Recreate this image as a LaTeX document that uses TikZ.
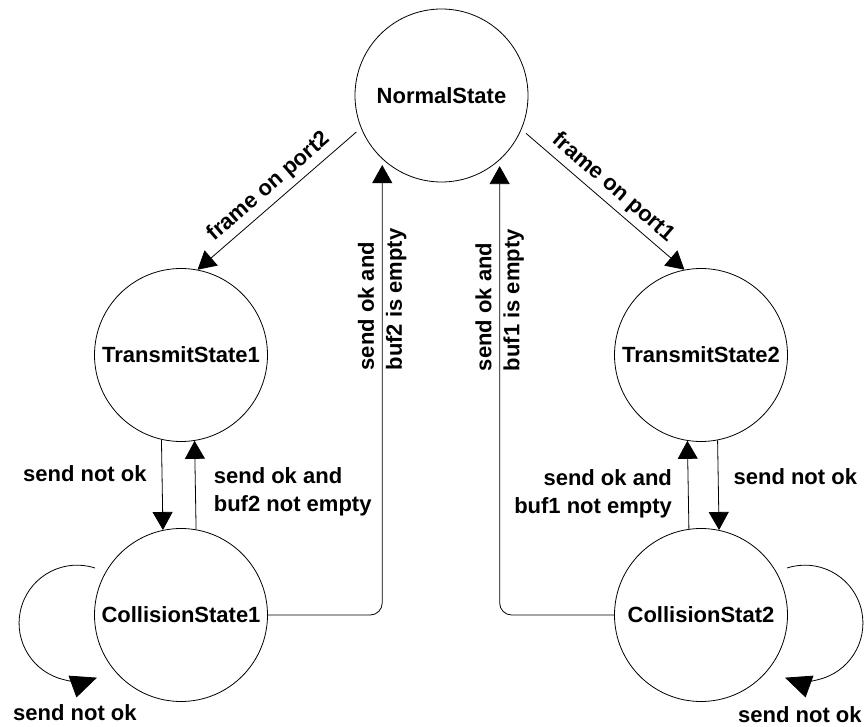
\documentclass[tikz,border=0pt]{standalone}
\usepackage{fontspec}
\setmainfont{Liberation Sans}
\usetikzlibrary{arrows.meta,calc}
\begin{document}
\begin{tikzpicture}[
  x=1pt, y=-1pt,
  every node/.style={font=\fontsize{22}{28}\selectfont\bfseries, inner sep=0pt},
  statenode/.style={circle, draw, line width=0.8pt, minimum size=173pt, inner sep=0pt},
  arr/.style={line width=0.8pt, -{Triangle[length=18pt,width=20pt]}},
  looparr/.style={line width=0.8pt, -{Triangle[length=26pt,width=23pt]}},
]
\useasboundingbox (0,0) rectangle (868,727);

% states
\node[statenode] (n)  at (441.5,95.5) {NormalState};
\node[statenode] (t1) at (181,355) {TransmitState1};
\node[statenode] (t2) at (701,355) {TransmitState2};
\node[statenode] (c1) at (181,615) {CollisionState1};
\node[statenode] (c2) at (701,615) {CollisionStat2};

% incoming frames
\draw[arr, shorten <=6pt] (n.202) -- node[sloped, above=5pt] {frame on port2} (t1.79);
\draw[arr, shorten <=6pt] (n.337.5) -- node[sloped, above=5pt] {frame on port1} (t2.101.6);

% transmit / collision pairs
\draw[arr] (t1.257.3) -- node[pos=0.38, left=15pt] {send not ok} (c1.102.7);
\draw[arr] (c1.80.7) -- node[pos=0.42, right=18pt, align=left] {send ok and\\buf2 not empty} (t1.279.3);
\draw[arr] (c2.98.6) -- node[pos=0.4, left=16pt, align=right] {send ok and\\buf1 not empty} (t2.261.4);
\draw[arr] (t2.281.3) -- node[pos=0.41, right=15pt] {send not ok} (c2.78.7);

% back to the normal state
\draw[arr, rounded corners=12pt, shorten >=6pt] (c1.east) -| node[pos=0.846, rotate=90, align=left] {send ok and\\buf2 is empty} (n.227.5);
\draw[arr, rounded corners=12pt, shorten >=6pt] (c2.west) -| node[pos=0.846, rotate=90, align=left] {send ok and\\buf1 is empty} (n.312.5);

% self loops on the collision states
\coordinate (l1s) at ($(c1)+(-86,-47)$);
\coordinate (l2s) at ($(c2)+(86,-47)$);
\draw[looparr] (l1s) arc[start angle=72, end angle=290, radius=58pt];
\draw[looparr] (l2s) arc[start angle=108, end angle=-110, radius=58pt];
\node[anchor=base west] (s1) at (13,720) {send not ok};
\node[anchor=base west] (s2) at (738,722) {send not ok};
\end{tikzpicture}
\end{document}
